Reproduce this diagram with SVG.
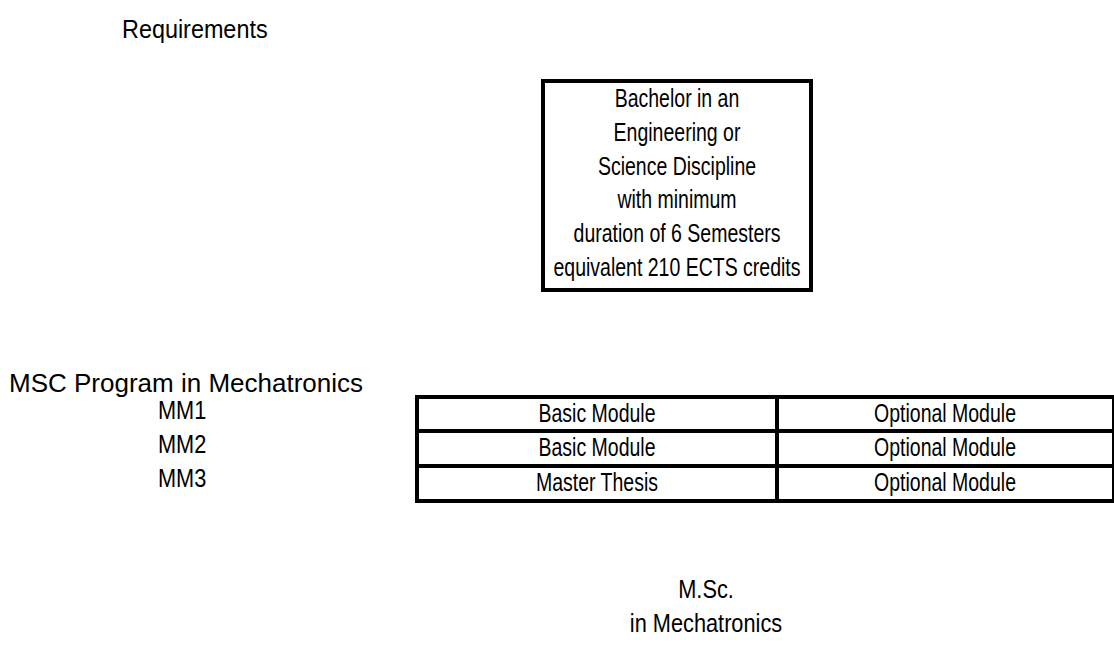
<svg xmlns="http://www.w3.org/2000/svg" width="1114" height="648" viewBox="0 0 1114 648">
<style>
text{font-family:"Liberation Sans",Arial,sans-serif;fill:#000}
.t{font-size:25px}
.h{font-size:26px}
.c{text-anchor:middle}
.box{fill:#fff;stroke:#000;stroke-width:4}
.ln{stroke:#000;stroke-width:4;fill:none}
</style>
<rect width="1114" height="648" fill="#fff"/>
<g id="req-title"><text class="h" transform="translate(122 38) scale(0.9 1)">Requirements</text></g>
<g id="bachelor">
<rect class="box" x="543" y="81" width="268" height="209"/>
<text class="t c" transform="translate(677 107) scale(0.78 1)">Bachelor in an</text>
<text class="t c" transform="translate(677 141) scale(0.78 1)">Engineering or</text>
<text class="t c" transform="translate(677 175) scale(0.78 1)">Science Discipline</text>
<text class="t c" transform="translate(677 208) scale(0.78 1)">with minimum</text>
<text class="t c" transform="translate(677 242) scale(0.78 1)">duration of 6 Semesters</text>
<text class="t c" transform="translate(677 276) scale(0.78 1)">equivalent 210 ECTS credits</text>
</g>
<g id="msc-title"><text class="h" transform="translate(9 392) scale(1 1)">MSC Program in Mechatronics</text></g>
<g id="labels">
<text class="t" transform="translate(158 419) scale(0.87 1)">MM1</text>
<text class="t" transform="translate(158 453) scale(0.87 1)">MM2</text>
<text class="t" transform="translate(158 487) scale(0.87 1)">MM3</text>
</g>
<g id="table">
<rect class="box" x="417" y="397" width="697" height="104"/>
<line class="ln" x1="417" y1="431" x2="1114" y2="431"/>
<line class="ln" x1="417" y1="466" x2="1114" y2="466"/>
<line class="ln" x1="777" y1="397" x2="777" y2="501"/>
<text class="t c" transform="translate(597 422) scale(0.78 1)">Basic Module</text>
<text class="t c" transform="translate(945 422) scale(0.78 1)">Optional Module</text>
<text class="t c" transform="translate(597 456) scale(0.78 1)">Basic Module</text>
<text class="t c" transform="translate(945 456) scale(0.78 1)">Optional Module</text>
<text class="t c" transform="translate(597 491) scale(0.78 1)">Master Thesis</text>
<text class="t c" transform="translate(945 491) scale(0.78 1)">Optional Module</text>
</g>
<g id="degree">
<text class="t c" transform="translate(706 598) scale(0.87 1)">M.Sc.</text>
<text class="t c" transform="translate(706 632) scale(0.87 1)">in Mechatronics</text>
</g>
<g id="connectors"/>
</svg>
